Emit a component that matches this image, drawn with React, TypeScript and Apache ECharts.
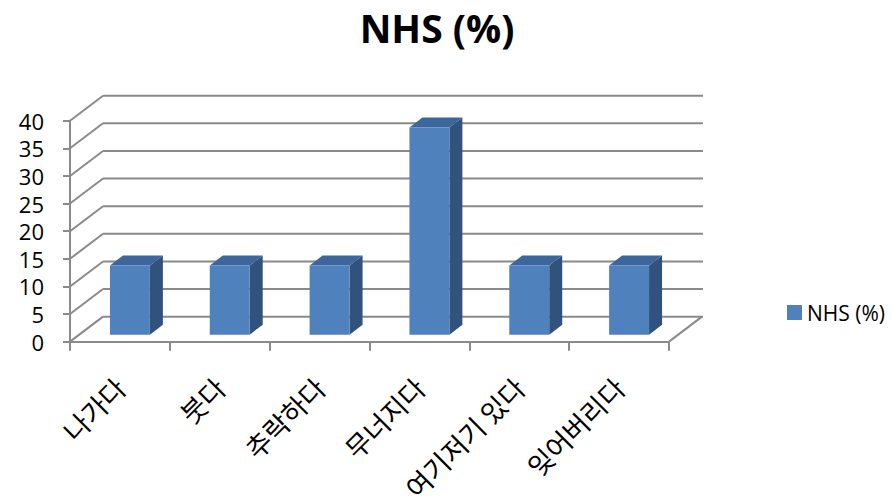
import React, { useEffect, useRef } from "react";
import * as echarts from "echarts";

// Categories, values and axis ticks
const categories = ["나가다", "붓다", "추락하다", "무너지다", "여기저기 있다", "잊어버리다"];
const nhsValues = [12.5, 12.5, 12.5, 37.5, 12.5, 12.5];
const yTicks = [0, 5, 10, 15, 20, 25, 30, 35, 40];
const seriesName = "NHS (%)";

// 3D look: depth of the back wall and of each column (pixels)
const WALL_DX = 33;
const WALL_DY = -25;
const BAR_SHIFT_X = 10;
const BAR_SHIFT_Y = -7;
const BAR_DX = 13;
const BAR_DY = -10;

const FRONT = "#4F81BD";
const SIDE = "#31527D";
const TOP = "#3D679C";
const GRID = "#8A8A8A";

export default function App() {
  const ref = useRef<HTMLDivElement>(null);

  useEffect(() => {
    if (!ref.current) return;
    const chart = echarts.init(ref.current, null, { renderer: "svg" });

    const wallItem = (params: any, api: any) => {
      const cs = params.coordSys;
      const v = api.value(1);
      const y = api.coord([0, v])[1];
      const x0 = cs.x;
      const x1 = cs.x + cs.width;
      const style = { stroke: GRID, lineWidth: 2, fill: null };
      const children: any[] = [
        { type: "line", shape: { x1: x0, y1: y, x2: x0 + WALL_DX, y2: y + WALL_DY }, style },
        { type: "line", shape: { x1: x0 + WALL_DX, y1: y + WALL_DY, x2: x1 + WALL_DX + 1, y2: y + WALL_DY }, style },
      ];
      if (v === 0) {
        children.push({ type: "line", shape: { x1: x1, y1: y, x2: x1 + WALL_DX, y2: y + WALL_DY }, style });
      }
      return { type: "group", children };
    };

    const barItem = (params: any, api: any) => {
      const idx = api.value(0);
      const top = api.coord([idx, api.value(1)]);
      const base = api.coord([idx, 0]);
      const w = api.size([1, 0])[0] * 0.4;
      const L = top[0] - w / 2 + BAR_SHIFT_X;
      const R = L + w;
      const yT = top[1] + BAR_SHIFT_Y;
      const yB = base[1] + BAR_SHIFT_Y;
      return {
        type: "group",
        children: [
          {
            type: "polygon",
            shape: { points: [[R, yT], [R + BAR_DX, yT + BAR_DY], [R + BAR_DX, yB + BAR_DY], [R, yB]] },
            style: { fill: SIDE },
          },
          {
            type: "polygon",
            shape: { points: [[L, yT], [L + BAR_DX, yT + BAR_DY], [R + BAR_DX, yT + BAR_DY], [R, yT]] },
            style: { fill: TOP },
          },
          {
            type: "rect",
            shape: { x: L, y: yT, width: w, height: yB - yT },
            style: { fill: FRONT },
          },
        ],
      };
    };

    chart.setOption({
      animation: false,
      backgroundColor: "#ffffff",
      title: {
        text: "NHS (%)",
        left: 432,
        top: 3,
        textAlign: "center",
        textStyle: { fontFamily: "Open Sans", fontWeight: "bold", fontSize: 39, color: "#000" },
      },
      legend: {
        data: [seriesName],
        left: 782,
        top: 297,
        icon: "rect",
        itemWidth: 15,
        itemHeight: 15,
        itemGap: 5,
        textStyle: { fontFamily: "Open Sans", fontSize: 21, color: "#000" },
      },
      grid: { left: 70, right: 223, top: 120.7, bottom: 162 },
      xAxis: {
        type: "category",
        data: categories,
        axisLine: { show: true, lineStyle: { color: GRID, width: 2 } },
        axisTick: { show: true, length: 9, lineStyle: { color: GRID, width: 2 } },
        axisLabel: {
          rotate: 45,
          margin: 41,
          interval: 0,
          fontSize: 27,
          fontFamily: "Noto Sans CJK KR",
          color: "#000",
        },
        splitLine: { show: false },
      },
      yAxis: {
        type: "value",
        min: 0,
        max: 40,
        interval: 5,
        axisLine: { show: true, lineStyle: { color: GRID, width: 2 } },
        axisTick: { show: true, length: 7, lineStyle: { color: GRID, width: 2 } },
        axisLabel: { margin: 26, fontSize: 22, fontFamily: "Open Sans", color: "#000" },
        splitLine: { show: false },
      },
      series: [
        {
          type: "custom",
          name: "wall",
          silent: true,
          z: 1,
          renderItem: wallItem,
          encode: { x: 0, y: 1 },
          data: yTicks.map((t) => [0, t]),
        },
        {
          type: "custom",
          name: seriesName,
          z: 2,
          itemStyle: { color: FRONT },
          renderItem: barItem,
          encode: { x: 0, y: 1 },
          data: nhsValues.map((v, i) => [i, v]),
        },
      ],
    });

    return () => chart.dispose();
  }, []);

  return (
    <div
      ref={ref}
      style={{ position: "fixed", left: 0, top: 0, width: 892, height: 504 }}
    />
  );
}
